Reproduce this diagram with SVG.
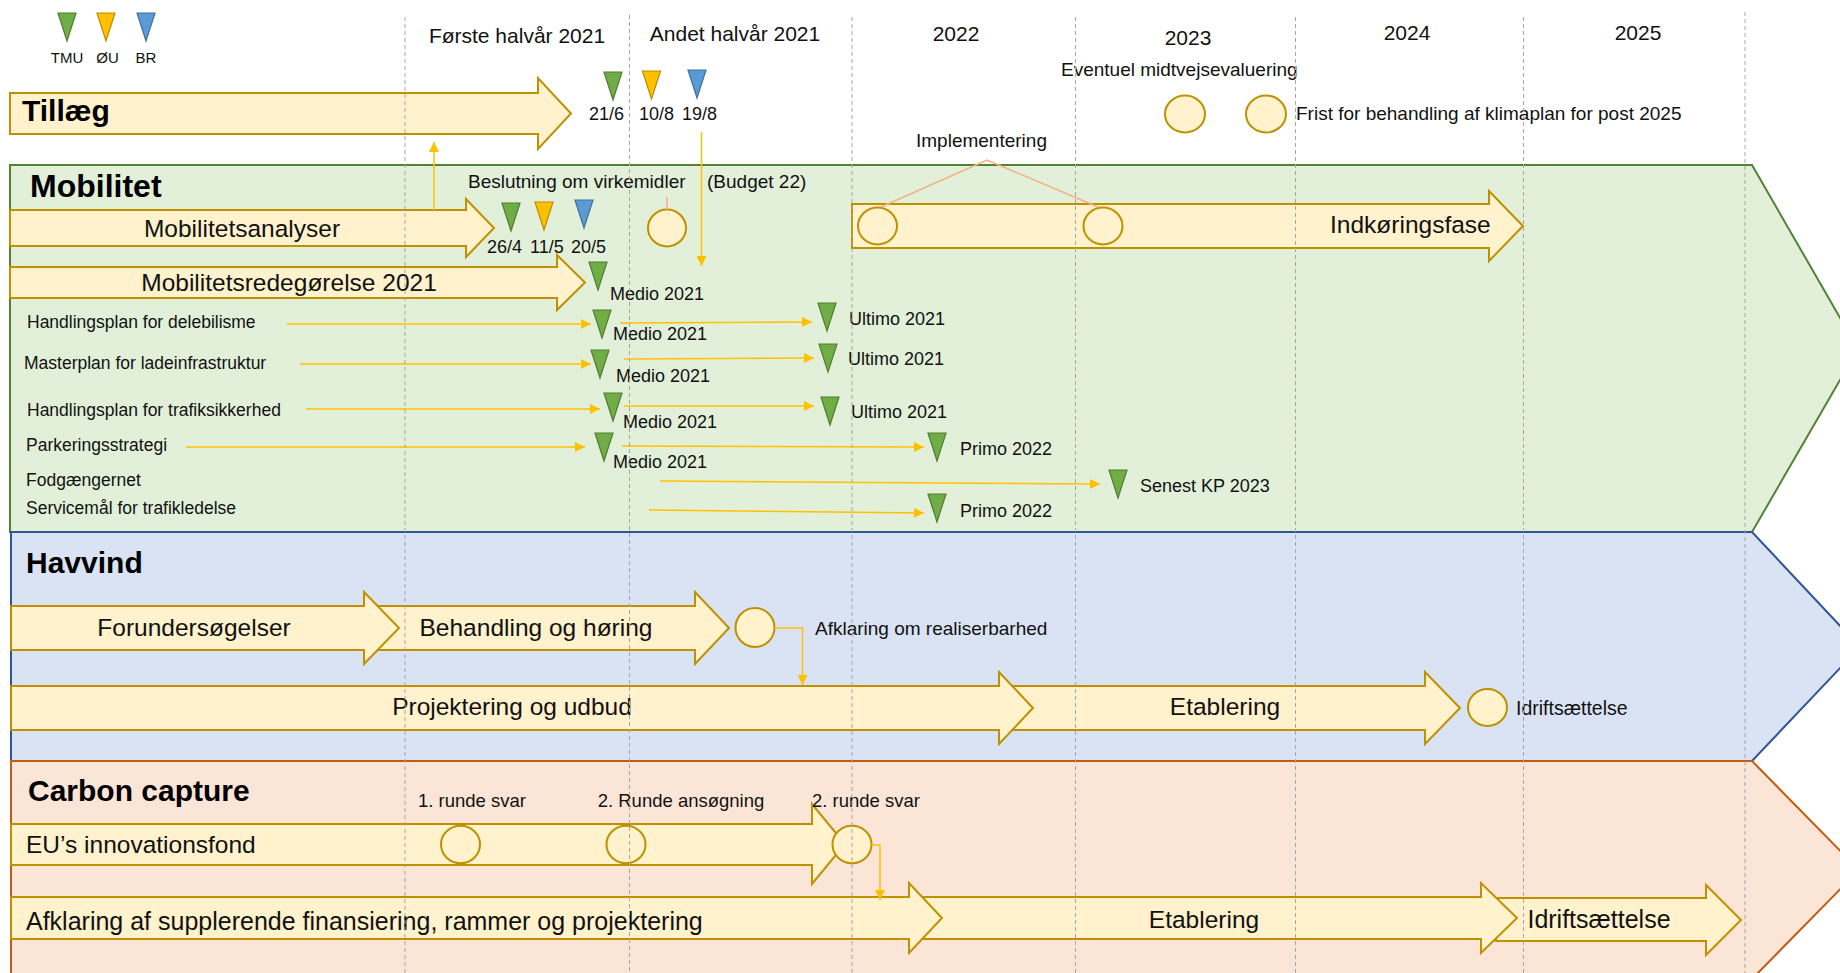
<svg xmlns="http://www.w3.org/2000/svg" width="1840" height="973" viewBox="0 0 1840 973">
<style>
text{font-family:"Liberation Sans",Arial,sans-serif;fill:#111}
.h{font-size:21px}
.t{font-size:30px;font-weight:bold;fill:#000}
.big{font-size:24.5px}
.mid{font-size:19px}
.sm{font-size:17.5px}
.dt{font-size:18px}
.lg{font-size:15px}
.c{text-anchor:middle}
.arr{fill:#FFF2CC;stroke:#BF9000;stroke-width:2}
.ms{fill:#FFF2CC;stroke:#BF9000;stroke-width:2}
.tg{fill:#70AD47;stroke:#507E32;stroke-width:1.2}
.to{fill:#FFC000;stroke:#BC8C00;stroke-width:1.2}
.tb{fill:#5B9BD5;stroke:#41719C;stroke-width:1.2}
.con{fill:none;stroke:#FFC000;stroke-width:1.5}
.cor{fill:none;stroke:#F4B183;stroke-width:1.5}
.grid{stroke:#A6A6A6;stroke-width:1;stroke-dasharray:4 3;fill:none}
</style>
<defs>
<path id="tri" d="M0,0 L18,0 L9,28 Z"/>
<marker id="ah" viewBox="0 0 10 10" refX="10" refY="5" markerWidth="10" markerHeight="10" markerUnits="userSpaceOnUse" orient="auto"><path d="M0,0 L10,5 L0,10 Z" fill="#FFC000"/></marker>
</defs>
<rect width="1840" height="973" fill="#fff"/>

<!-- lanes -->
<g id="lane-mobilitet">
<path d="M10,165 L1752,165 L1858,349 L1752,532 L10,532 Z" fill="#E2F0D9" stroke="#548235" stroke-width="2"/>
<text class="t" x="30" y="197" style="font-size:32px">Mobilitet</text>
</g>
<g id="lane-havvind">
<path d="M11,532 L1752,532 L1860,647 L1752,761 L11,761 Z" fill="#DAE3F3" stroke="#2F5597" stroke-width="2"/>
<text class="t" x="26" y="573">Havvind</text>
</g>
<g id="lane-carbon">
<path d="M11,761 L1752,761 L1859,870 L1752,979 L11,979 Z" fill="#FBE5D6" stroke="#C55A11" stroke-width="2"/>
<text class="t" x="28" y="801">Carbon capture</text>
</g>

<!-- header -->
<g id="legend">
<use href="#tri" x="58" y="13" class="tg"/>
<use href="#tri" x="97" y="13" class="to"/>
<use href="#tri" x="137" y="13" class="tb"/>
<text class="lg c" x="67" y="63">TMU</text>
<text class="lg c" x="107.5" y="63">ØU</text>
<text class="lg c" x="146" y="63">BR</text>
</g>
<g id="periods">
<text class="h c" x="517" y="43">Første halvår 2021</text>
<text class="h c" x="735" y="41">Andet halvår 2021</text>
<text class="h c" x="956" y="41">2022</text>
<text class="h c" x="1188" y="45">2023</text>
<text class="h c" x="1407" y="40">2024</text>
<text class="h c" x="1638" y="40">2025</text>
</g>

<g id="tillaeg">
<path class="arr" d="M10,93 L538,93 L538,78 L571,113.5 L538,149 L538,134 L10,134 Z"/>
<text class="t" x="22" y="121">Tillæg</text>
</g>
<g id="tillaeg-beslutning">
<use href="#tri" x="604" y="72" class="tg"/>
<use href="#tri" x="642.5" y="71" class="to"/>
<use href="#tri" x="688" y="70" class="tb"/>
<text class="dt" x="589" y="120">21/6</text>
<text class="dt" x="639" y="120">10/8</text>
<text class="dt" x="682" y="120">19/8</text>
</g>
<g id="midtvejsevaluering">
<text class="mid" x="1061" y="76">Eventuel midtvejsevaluering</text>
<ellipse class="ms" cx="1185" cy="114" rx="20" ry="18.5"/>
</g>
<g id="frist">
<ellipse class="ms" cx="1266" cy="114" rx="20" ry="18.5"/>
<text class="mid" x="1296" y="120">Frist for behandling af klimaplan for post 2025</text>
</g>

<!-- Mobilitet content -->
<g id="mobilitetsanalyser">
<path class="arr" d="M10,210 L466,210 L466,199 L494,228 L466,257 L466,246 L10,246 Z"/>
<text class="big c" x="242" y="237">Mobilitetsanalyser</text>
</g>
<g id="mobilitetsanalyser-beslutning">
<use href="#tri" x="502" y="203" class="tg"/>
<use href="#tri" x="535" y="202" class="to"/>
<use href="#tri" x="575" y="200" class="tb"/>
<text class="dt" x="487" y="253">26/4</text>
<text class="dt" x="530" y="253">11/5</text>
<text class="dt" x="571" y="253">20/5</text>
</g>
<g id="beslutning-virkemidler">
<text class="mid" x="468" y="188">Beslutning om virkemidler</text>
<text class="mid" x="707" y="188">(Budget 22)</text>
<ellipse class="ms" cx="667" cy="228" rx="19" ry="18.5"/>
</g>
<g id="mobilitetsredegoerelse">
<path class="arr" d="M10,267 L557,267 L557,255 L585,282.5 L557,310 L557,298 L10,298 Z"/>
<text class="big c" x="289" y="291">Mobilitetsredegørelse 2021</text>
<use href="#tri" x="589" y="262" class="tg"/>
<text class="dt" x="610" y="300">Medio 2021</text>
</g>
<g id="indkoeringsfase">
<path class="arr" d="M852,204 L1489,204 L1489,191 L1523,226 L1489,261 L1489,248 L852,248 Z"/>
<ellipse class="ms" cx="877.5" cy="226" rx="19.5" ry="18.5"/>
<ellipse class="ms" cx="1103" cy="226" rx="19.5" ry="18.5"/>
<text class="big" x="1330" y="233">Indkøringsfase</text>
</g>
<g id="implementering">
<text class="mid" x="916" y="147">Implementering</text>
</g>
<g id="delebilisme">
<text class="sm" x="27" y="328">Handlingsplan for delebilisme</text>
<use href="#tri" x="593" y="310" class="tg"/>
<text class="dt" x="613" y="340">Medio 2021</text>
<use href="#tri" x="818" y="303" class="tg"/>
<text class="dt" x="849" y="325">Ultimo 2021</text>
</g>
<g id="ladeinfrastruktur">
<text class="sm" x="24" y="369">Masterplan for ladeinfrastruktur</text>
<use href="#tri" x="591" y="350" class="tg"/>
<text class="dt" x="616" y="382">Medio 2021</text>
<use href="#tri" x="819" y="344" class="tg"/>
<text class="dt" x="848" y="365">Ultimo 2021</text>
</g>
<g id="trafiksikkerhed">
<text class="sm" x="27" y="416">Handlingsplan for trafiksikkerhed</text>
<use href="#tri" x="604" y="393" class="tg"/>
<text class="dt" x="623" y="428">Medio 2021</text>
<use href="#tri" x="821" y="397" class="tg"/>
<text class="dt" x="851" y="418">Ultimo 2021</text>
</g>
<g id="parkeringsstrategi">
<text class="sm" x="26" y="451">Parkeringsstrategi</text>
<use href="#tri" x="595" y="433" class="tg"/>
<text class="dt" x="613" y="468">Medio 2021</text>
<use href="#tri" x="928" y="433" class="tg"/>
<text class="dt" x="960" y="455">Primo 2022</text>
</g>
<g id="fodgaengernet">
<text class="sm" x="26" y="486">Fodgængernet</text>
<use href="#tri" x="1109" y="470" class="tg"/>
<text class="dt" x="1140" y="492">Senest KP 2023</text>
</g>
<g id="servicemaal">
<text class="sm" x="26" y="514">Servicemål for trafikledelse</text>
<use href="#tri" x="928" y="494" class="tg"/>
<text class="dt" x="960" y="517">Primo 2022</text>
</g>

<!-- Havvind content -->
<g id="behandling-hoering">
<path class="arr" d="M375,606 L695,606 L695,592 L729,628 L695,664 L695,650 L375,650 Z"/>
<text class="big c" x="536" y="636">Behandling og høring</text>
</g>
<g id="forundersoegelser">
<path class="arr" d="M11,606 L364,606 L364,592 L399,628 L364,664 L364,650 L11,650 Z"/>
<text class="big c" x="194" y="636">Forundersøgelser</text>
</g>
<g id="afklaring-realiserbarhed">
<ellipse class="ms" cx="755" cy="627.5" rx="19.5" ry="19.5"/>
<text class="mid" x="815" y="635">Afklaring om realiserbarhed</text>
</g>
<g id="etablering-havvind">
<path class="arr" d="M1000,686 L1425,686 L1425,672 L1460,708 L1425,744 L1425,730 L1000,730 Z"/>
<text class="big c" x="1225" y="715">Etablering</text>
</g>
<g id="projektering-udbud">
<path class="arr" d="M11,686 L999,686 L999,672 L1033,708 L999,744 L999,730 L11,730 Z"/>
<text class="big c" x="512" y="715">Projektering og udbud</text>
</g>
<g id="idrift-havvind">
<ellipse class="ms" cx="1487.5" cy="707.5" rx="19.5" ry="18.5"/>
<text class="mid" x="1516" y="715" style="font-size:19.5px">Idriftsættelse</text>
</g>

<!-- Carbon content -->
<g id="eu-innovationsfond">
<path class="arr" d="M11,824 L812,824 L812,804 L845,844 L812,884 L812,865 L11,865 Z"/>
<text class="big" x="26" y="853">EU’s innovationsfond</text>
<ellipse class="ms" cx="460.5" cy="844.5" rx="19.5" ry="18.7"/>
<ellipse class="ms" cx="626" cy="844.5" rx="19.5" ry="18.7"/>
<ellipse class="ms" cx="852" cy="844.5" rx="19.5" ry="18.7"/>
<text class="dt c" x="472" y="807" style="font-size:18.5px">1. runde svar</text>
<text class="dt c" x="681" y="807" style="font-size:18.5px">2. Runde ansøgning</text>
<text class="dt c" x="866" y="807" style="font-size:18.5px">2. runde svar</text>
</g>
<g id="idrift-carbon">
<path class="arr" d="M1496,898 L1706,898 L1706,885 L1741,920 L1706,955 L1706,941 L1496,941 Z"/>
<text class="big c" x="1599" y="928" style="font-size:25px">Idriftsættelse</text>
</g>
<g id="etablering-carbon">
<path class="arr" d="M921,897 L1481,897 L1481,883 L1517,918 L1481,953 L1481,939 L921,939 Z"/>
<text class="big c" x="1204" y="928">Etablering</text>
</g>
<g id="afklaring-finansiering">
<path class="arr" d="M11,897 L909,897 L909,883 L942,918 L909,953 L909,939 L11,939 Z"/>
<text class="big" x="26" y="930" style="font-size:25px">Afklaring af supplerende finansiering, rammer og projektering</text>
</g>

<!-- connectors -->
<g id="connectors">
<line class="con" x1="434" y1="210" x2="434" y2="142" marker-end="url(#ah)"/>
<line class="con" x1="701.5" y1="132" x2="701.5" y2="266" marker-end="url(#ah)"/>
<line class="cor" x1="667" y1="197" x2="667" y2="209.5"/>
<polyline class="cor" points="881,207 987,160 1098,207"/>
<line class="con" x1="287" y1="324" x2="591" y2="324" marker-end="url(#ah)"/>
<line class="con" x1="620" y1="323" x2="812" y2="322" marker-end="url(#ah)"/>
<line class="con" x1="300" y1="364" x2="591" y2="364" marker-end="url(#ah)"/>
<line class="con" x1="624" y1="359" x2="814" y2="358" marker-end="url(#ah)"/>
<line class="con" x1="306" y1="409" x2="600" y2="409" marker-end="url(#ah)"/>
<line class="con" x1="624" y1="406" x2="814" y2="406" marker-end="url(#ah)"/>
<line class="con" x1="186" y1="447" x2="585" y2="447" marker-end="url(#ah)"/>
<line class="con" x1="622" y1="446" x2="924" y2="447" marker-end="url(#ah)"/>
<line class="con" x1="660" y1="481" x2="1100" y2="484" marker-end="url(#ah)"/>
<line class="con" x1="649" y1="510" x2="924" y2="513" marker-end="url(#ah)"/>
<polyline class="con" points="774.5,628 802.5,628 802.5,685" marker-end="url(#ah)"/>
<polyline class="con" points="871.5,845 880,845 880,900" marker-end="url(#ah)"/>
</g>

<!-- time grid -->
<g id="grid">
<line class="grid" x1="405" y1="17" x2="405" y2="973"/>
<line class="grid" x1="629.5" y1="15" x2="629.5" y2="973"/>
<line class="grid" x1="852" y1="17" x2="852" y2="973"/>
<line class="grid" x1="1075.5" y1="17" x2="1075.5" y2="973"/>
<line class="grid" x1="1295.5" y1="17" x2="1295.5" y2="973"/>
<line class="grid" x1="1523.5" y1="17" x2="1523.5" y2="973"/>
<line class="grid" x1="1745" y1="12" x2="1745" y2="973"/>
</g>
</svg>
